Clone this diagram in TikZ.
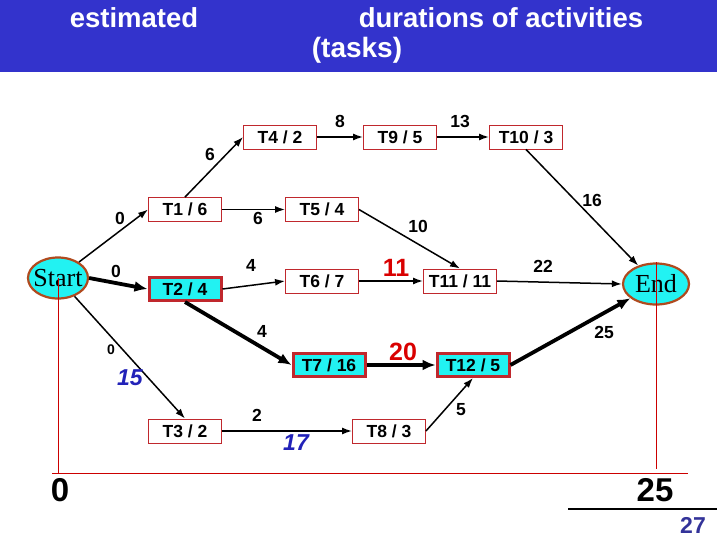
\documentclass[tikz,border=0pt]{standalone}
\usepackage{fontspec}
\setmainfont{Liberation Sans}
\newfontfamily\timesfont{Liberation Serif}
\usetikzlibrary{shapes.geometric, arrows.meta}
\definecolor{headblue}{HTML}{3333CC}
\definecolor{boxred}{HTML}{C0282D}
\definecolor{critcyan}{HTML}{22F2F2}
\definecolor{rimbrown}{HTML}{B04A1E}
\definecolor{cumblue}{HTML}{2222B8}
\definecolor{pageblue}{HTML}{333399}
\begin{document}
\begin{tikzpicture}[x=1pt, y=-1pt,
    task/.style={draw=boxred, line width=0.9pt, fill=white, minimum width=73pt,
        minimum height=24pt, inner sep=0pt, font=\fontsize{17.5}{17.5}\selectfont\bfseries},
    crit/.style={task, line width=3pt, fill=critcyan, minimum width=72pt, minimum height=23pt},
    event/.style={ellipse, draw=rimbrown, line width=2.2pt, fill=critcyan, minimum width=60pt,
        minimum height=41pt, inner sep=0pt, font=\timesfont\fontsize{26}{26}\selectfont},
    lbl/.style={font=\fontsize{17.5}{17.5}\selectfont\bfseries},
    hot/.style={font=\fontsize{25}{25}\selectfont\bfseries, text=red!85!black},
    cum/.style={font=\fontsize{23}{23}\selectfont\bfseries\itshape, text=cumblue},
    link/.style={-{Latex[length=10pt, width=7pt]}, line width=1.5pt},
    critlink/.style={-{Latex[length=13pt, width=11pt]}, line width=3.8pt}
]
    \useasboundingbox (0,0) rectangle (717,538);

    % 1. Header band
    \fill[headblue] (0,0) rectangle (717,72);
    \node[text=white, font=\fontsize{27.5}{27.5}\selectfont\bfseries] (ttl1) at (134,18) {estimated};
    \node[text=white, font=\fontsize{27.5}{27.5}\selectfont\bfseries] (ttl2) at (501,18) {durations of activities};
    \node[text=white, font=\fontsize{28}{28}\selectfont\bfseries] (ttl3) at (357,50) {(tasks)};

    % 2. Events and tasks
    \node[event] (start) at (58,278) {\makebox[0pt]{Start}};
    \node[event, minimum width=66pt] (finish) at (656,284) {\makebox[0pt]{End}};

    \node[task] (t1) at (185,209.5) {T1 / 6};
    \node[crit] (t2) at (185,289) {T2 / 4};
    \node[task] (t3) at (185,431) {T3 / 2};
    \node[task] (t4) at (280,137) {T4 / 2};
    \node[task] (t5) at (322,209.5) {T5 / 4};
    \node[task] (t6) at (322,281) {T6 / 7};
    \node[crit] (t7) at (329,365) {T7 / 16};
    \node[task] (t8) at (389,431) {T8 / 3};
    \node[task] (t9) at (400,137) {T9 / 5};
    \node[task] (t10) at (526,137) {T10 / 3};
    \node[task] (t11) at (460,281) {T11 / 11};
    \node[crit] (t12) at (473,365) {T12 / 5};

    % 3. Dependencies
    \draw[link] (start) -- (t1.west);
    \draw[critlink] (start.east) -- (t2.west);
    \draw[link] (start) -- (t3.north);
    \draw[link] (t1.north) -- (t4.west);
    \draw[link] (t1.east) -- (t5.west);
    \draw[link] (t2.east) -- (t6.west);
    \draw[critlink] (t2.south) -- (t7.west);
    \draw[link] (t3.east) -- (t8.west);
    \draw[link] (t4.east) -- (t9.west);
    \draw[link] (t9.east) -- (t10.west);
    \draw[link] (t10.south) -- (finish);
    \draw[link] (t5.east) -- (t11.north);
    \draw[link] (t6.east) -- (t11.west);
    \draw[link] (t11.east) -- (finish.west);
    \draw[critlink] (t7.east) -- (t12.west);
    \draw[link] (t8.east) -- (t12.south);
    \draw[critlink] (t12.east) -- (finish);

    % 4. Earliest start times
    \node[lbl] (s1) at (120,218) {0};
    \node[lbl] (s2) at (116,271) {0};
    \node[lbl, font=\fontsize{14}{14}\selectfont\bfseries] (s3) at (111,350) {0};
    \node[lbl] (s4) at (210,154) {6};
    \node[lbl] (s5) at (258,218) {6};
    \node[lbl] (s6) at (251,265) {4};
    \node[lbl] (s7) at (262,331) {4};
    \node[lbl] (s8) at (257,415) {2};
    \node[lbl] (s9) at (340,121) {8};
    \node[lbl] (s10) at (460,121) {13};
    \node[lbl] (s11) at (592,200) {16};
    \node[lbl] (s12) at (418,226) {10};
    \node[lbl] (s13) at (543,266) {22};
    \node[lbl] (s14) at (461,410) {5};
    \node[lbl] (s15) at (604,332) {25};
    \node[hot] (s16) at (396,268) {11};
    \node[hot] (s17) at (403,352) {20};
    \node[cum] (s18) at (130,378) {15};
    \node[cum] (s19) at (296,443) {17};

    % 5. Time axis
    \coordinate (axl) at (52,473);
    \coordinate (axr) at (688,473);
    \draw[red!80!black, line width=0.8pt] (axl) -- (axr);
    \draw[red!80!black, line width=0.8pt] (start.center) -- (start.center |- axl);
    \draw[red!80!black, line width=0.8pt] (finish.north) -- ([yshift=4pt]finish.center |- axl);
    \node[font=\fontsize{33}{33}\selectfont\bfseries] (zero) at (60,490) {0};
    \node[font=\fontsize{33}{33}\selectfont\bfseries] (total) at (655,490) {25};

    % 6. Page number
    \coordinate (rulel) at (568,509);
    \coordinate (ruler) at (717,509);
    \draw[line width=1.6pt] (rulel) -- (ruler);
    \node[text=pageblue, font=\fontsize{23}{23}\selectfont\bfseries] (page) at (693,525) {27};
\end{tikzpicture}
\end{document}
